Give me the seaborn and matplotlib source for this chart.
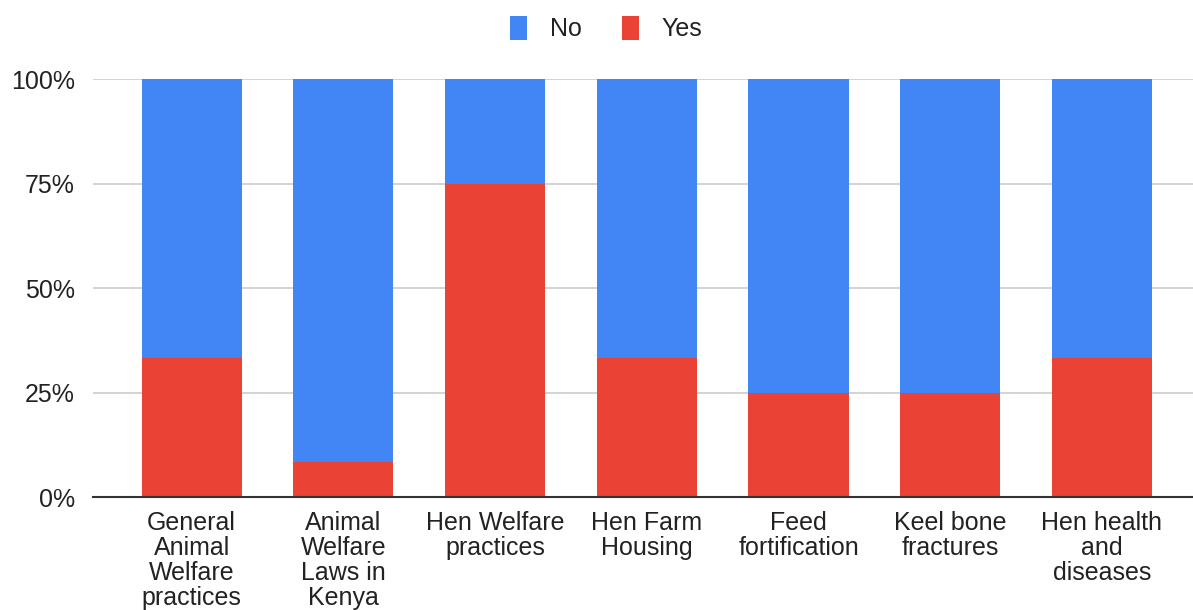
import matplotlib
matplotlib.use("Agg")
import matplotlib.pyplot as plt
import seaborn as sns
import pandas as pd
from matplotlib.patches import Patch
from matplotlib.ticker import FuncFormatter

categories = [
    "General\nAnimal\nWelfare\npractices",
    "Animal\nWelfare\nLaws in\nKenya",
    "Hen Welfare\npractices",
    "Hen Farm\nHousing",
    "Feed\nfortification",
    "Keel bone\nfractures",
    "Hen health\nand\ndiseases",
]
yes_values = [33.3, 8.3, 75.0, 33.3, 25.0, 25.0, 33.3]
no_values = [66.7, 91.7, 25.0, 66.7, 75.0, 75.0, 66.7]
series_names = ["No", "Yes"]
series_colors = ["#4285F4", "#EA4335"]
y_ticks = [0, 25, 50, 75, 100]

sns.set_theme(style="white")
plt.rcParams["font.family"] = ["Liberation Sans", "DejaVu Sans"]

df = pd.DataFrame({
    "category": categories,
    "Yes": yes_values,
    "No": no_values,
})
df["Total"] = df["Yes"] + df["No"]

fig = plt.figure(figsize=(11.93, 6.10), dpi=100)
ax = fig.add_axes([0.078, 0.185, 0.922, 0.685])

sns.barplot(data=df, x="category", y="Total", color=series_colors[0],
            width=0.66, saturation=1, linewidth=0, ax=ax, zorder=2)
sns.barplot(data=df, x="category", y="Yes", color=series_colors[1],
            width=0.66, saturation=1, linewidth=0, ax=ax, zorder=3)

ax.set_ylim(0, 100)
ax.set_xlim(-0.65, 6.6)
ax.set_yticks(y_ticks)
ax.yaxis.set_major_formatter(FuncFormatter(lambda v, p: f"{int(v)}%"))
ax.grid(axis="y", color="#cccccc", linewidth=1.2, zorder=0)
ax.set_axisbelow(True)
for s in ["top", "right", "left"]:
    ax.spines[s].set_visible(False)
ax.spines["bottom"].set_color("#333333")
ax.spines["bottom"].set_linewidth(1.5)
ax.spines["bottom"].set_zorder(5)
ax.set_xlabel("")
ax.set_ylabel("")
ax.tick_params(axis="both", length=0, labelsize=18, colors="#222222")
ax.tick_params(axis="y", pad=13)
ax.tick_params(axis="x", pad=10)
for lbl in ax.get_xticklabels():
    lbl.set_linespacing(1.05)

handles = [Patch(facecolor=c, edgecolor="none", label=n) for n, c in zip(series_names, series_colors)]
fig.legend(handles=handles, loc="center", bbox_to_anchor=(0.508, 0.953), ncol=2,
           frameon=False, fontsize=18, handlelength=0.7, handleheight=1.1,
           columnspacing=1.6, handletextpad=0.9, labelcolor="#222222")

fig.savefig("out.png", dpi=100)
